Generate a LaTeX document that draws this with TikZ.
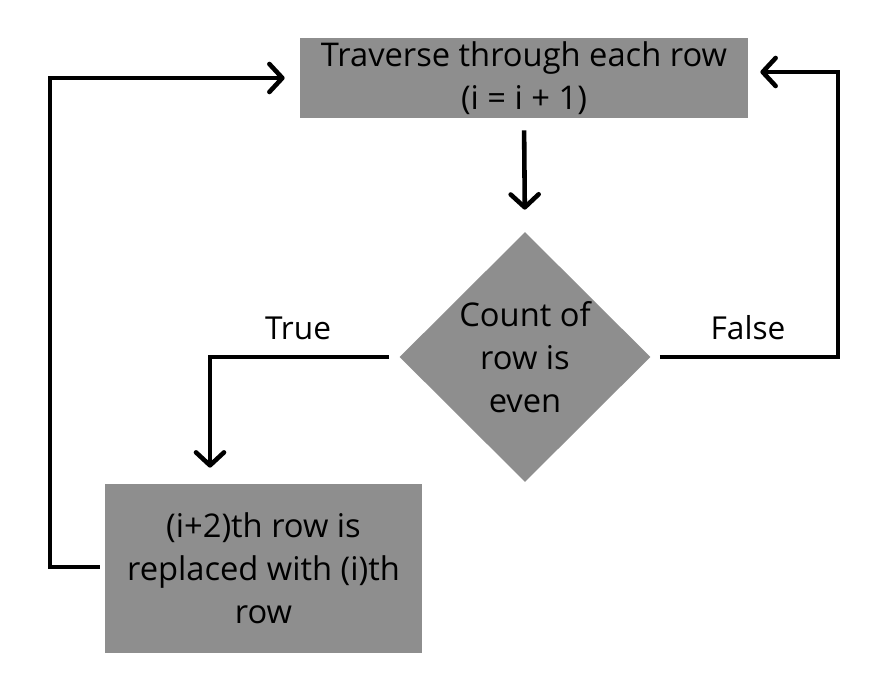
\documentclass[tikz,border=0pt]{standalone}
\usepackage{fontspec}
\setmainfont{Open Sans}
\definecolor{boxGray}{HTML}{8E8E8E}
\usetikzlibrary{arrows.meta, positioning, shapes.geometric}

\begin{document}
\begin{tikzpicture}[x=0.02cm, y=-0.02cm,
    stepbox/.style={fill=boxGray, align=center, inner sep=0pt, font=\fontsize{18.6}{24.4}\selectfont},
    flow/.style={line width=2.6pt, line join=miter, -{Straight Barb[length=2.6mm, width=5.6mm, line cap=round, line join=round]}},
    lbl/.style={font=\fontsize{18}{22}\selectfont}]
    \useasboundingbox (0,0) rectangle (885,699);

    % boxes
    \node[stepbox, minimum width=0.02cm*448, minimum height=0.02cm*80] (trav) at (524,78)
        {Traverse through each row\\(i = i + 1)};
    \node[stepbox, diamond, minimum width=0.02cm*251, minimum height=0.02cm*250] (cond) at (525,357)
        {Count of\\row is\\even};
    \node[stepbox, minimum width=0.02cm*317, minimum height=0.02cm*169] (repl) at (263.5,568.5)
        {(i+2)th row is\\replaced with (i)th\\row};

    % corner points
    \coordinate (tl) at (210,357);
    \coordinate (fr) at (838,357);
    \coordinate (ft) at (838,72);
    \coordinate (lb) at (50,567);
    \coordinate (lt) at (50,78);

    % connectors
    \draw[flow, shorten <=0.24cm, shorten >=0.44cm] (trav.south) -- (cond.north);
    \draw[flow, shorten <=0.2cm, shorten >=0.32cm] (cond.west) -- (tl) -- (repl.north -| tl);
    \draw[flow, shorten <=0.18cm, shorten >=0.24cm] (cond.east) -- (fr) -- (ft) -- (trav.east |- ft);
    \draw[flow, shorten <=0.1cm, shorten >=0.3cm] (repl.west |- lb) -- (lb) -- (lt) -- (trav.west);

    \node[lbl] (true) at (298,328) {True};
    \node[lbl] (false) at (748,328) {False};
\end{tikzpicture}
\end{document}
